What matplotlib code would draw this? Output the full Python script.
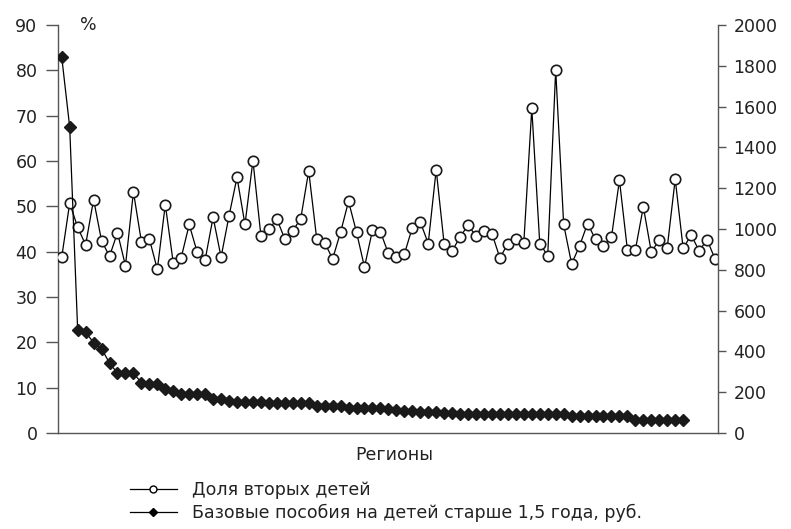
import matplotlib
matplotlib.use("Agg")
import matplotlib.pyplot as plt
from matplotlib.lines import Line2D
import numpy as np

plt.rcParams['font.family'] = ['DejaVu Sans']

share_second = [
    38.8, 50.7, 45.4, 41.5, 51.5, 42.4, 39.0, 44.2, 36.9, 53.2,
    42.2, 42.8, 36.1, 50.4, 37.5, 38.7, 46.0, 39.9, 38.2, 47.6,
    38.8, 47.9, 56.4, 46.0, 60.1, 43.5, 44.9, 47.2, 42.8, 44.6,
    47.3, 57.8, 42.9, 42.0, 38.4, 44.3, 51.1, 44.3, 36.6, 44.7,
    44.4, 39.6, 38.8, 39.4, 45.3, 46.6, 41.8, 58.1, 41.7, 40.1,
    43.3, 45.8, 43.5, 44.6, 44.0, 38.6, 41.8, 42.9, 42.0, 71.6,
    41.8, 39.1, 80.1, 46.0, 37.3, 41.3, 46.2, 42.7, 41.2, 43.2,
    55.8, 40.4, 40.4, 49.9, 39.9, 42.6, 40.9, 56.0, 40.7, 43.7,
    40.2, 42.6, 38.4,
]

base_benefit = [
    1843, 1500, 505, 494, 443, 413, 343, 293, 293, 293,
    247, 242, 239, 217, 207, 193, 193, 193, 193, 167,
    167, 157, 154, 154, 154, 150, 145, 145, 145, 145,
    145, 145, 134, 134, 134, 134, 124, 124, 124, 121,
    121, 118, 113, 108, 108, 104, 104, 104, 100, 100,
    95, 95, 95, 95, 95, 95, 95, 95, 95, 95,
    95, 95, 95, 95, 82, 82, 82, 82, 82, 82,
    82, 82, 66, 66, 66, 66, 66, 66, 66,
]

left_ticks = list(range(0, 91, 10))
right_ticks = list(range(0, 2001, 200))
label_share = "Доля вторых детей"
label_benefit = "Базовые пособия на детей старше 1,5 года, руб."
x_label = "Регионы"

FS = 12.5
TXT = '#222222'

fig = plt.figure(figsize=(7.91, 5.29), dpi=100)
ax = fig.add_axes([0.0737, 0.1815, 0.8343, 0.7712])
ax2 = ax.twinx()

x1 = np.arange(len(share_second))
x2 = np.arange(len(base_benefit))

ax2.plot(x2, base_benefit, color='black', lw=0.9, marker='D', ms=6,
         mfc='#1a1a1a', mec='#1a1a1a', zorder=3)
ax.plot(x1, share_second, color='black', lw=0.9, marker='o', ms=7.5,
        mfc='white', mec='#1a1a1a', mew=1.2, zorder=3)

ax.set_xlim(-0.43, 82.4)
ax.set_ylim(0, 90)
ax2.set_ylim(0, 2000)
ax.set_yticks(left_ticks)
ax2.set_yticks(right_ticks)
ax.set_xticks([])

spine_col = '#555555'
for a in (ax, ax2):
    a.spines['top'].set_visible(False)
    for s in a.spines.values():
        s.set_color(spine_col)
        s.set_linewidth(1.0)
ax.spines['right'].set_visible(False)
ax2.spines['left'].set_visible(False)
ax2.spines['bottom'].set_visible(False)

ax.tick_params(axis='y', direction='out', length=9, width=1.0, color=spine_col,
               labelsize=FS, labelcolor=TXT, pad=6)
ax2.tick_params(axis='y', direction='out', length=6, width=1.0, color=spine_col,
                labelsize=FS, labelcolor=TXT, pad=5)

ax.text(0.033, 1.0, "%", transform=ax.transAxes, fontsize=FS,
        color=TXT, ha='left', va='center')

fig.text(0.499, 0.14, x_label, fontsize=FS, color=TXT,
         ha='center', va='center')

handles = [
    Line2D([0], [0], color='black', lw=0.9, marker='o', ms=5, mfc='white',
           mec='black', mew=1.0),
    Line2D([0], [0], color='black', lw=0.9, marker='D', ms=4.5, mfc='black',
           mec='black'),
]
fig.legend(handles, [label_share, label_benefit], loc='upper left',
           bbox_to_anchor=(0.164, 0.091), frameon=False, fontsize=FS,
           handlelength=2.7, handletextpad=0.9, labelspacing=0.3,
           borderaxespad=0, borderpad=0, labelcolor=TXT)

fig.savefig("out.png", dpi=100)
